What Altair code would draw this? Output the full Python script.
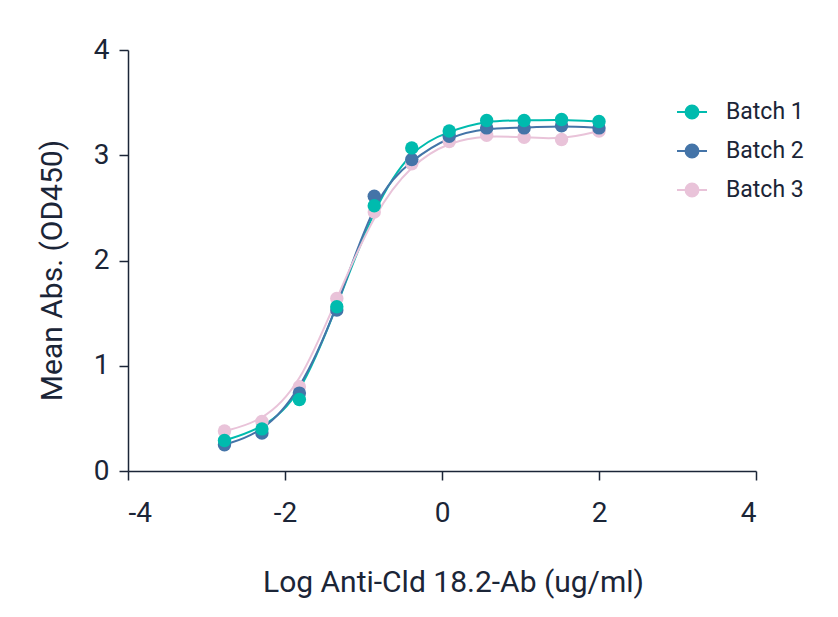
import altair as alt
import pandas as pd

# log10 concentration (3-fold dilutions from 100 ug/ml)
log_conc = [-2.771, -2.294, -1.817, -1.340, -0.863, -0.385, 0.092, 0.569, 1.046, 1.523, 2.000]
batch1 = [0.29, 0.40, 0.68, 1.56, 2.52, 3.07, 3.23, 3.33, 3.33, 3.34, 3.32]
batch2 = [0.25, 0.36, 0.74, 1.53, 2.61, 2.96, 3.18, 3.26, 3.26, 3.28, 3.26]
batch3 = [0.38, 0.47, 0.80, 1.64, 2.46, 2.92, 3.13, 3.19, 3.17, 3.15, 3.23]
series = ["Batch 1", "Batch 2", "Batch 3"]
colors = ["#00BBAE", "#4474A8", "#E9C3D9"]

rows = []
for name, vals in zip(series, [batch1, batch2, batch3]):
    for x, y in zip(log_conc, vals):
        rows.append({"x": x, "y": y, "batch": name})
df = pd.DataFrame(rows)

TEXT = "#1b2537"
FONT = "Roboto"

x_enc = alt.X("x:Q", scale=alt.Scale(domain=[-4, 4], nice=False),
              axis=alt.Axis(values=[-4, -2, 0, 2, 4], title="Log Anti-Cld 18.2-Ab (ug/ml)",
                            labelExpr="'' + datum.value",
                            titlePadding=40, labelPadding=19, titleX=325))
y_enc = alt.Y("y:Q", scale=alt.Scale(domain=[0, 4], nice=False),
              axis=alt.Axis(values=[0, 1, 2, 3, 4], title="Mean Abs. (OD450)",
                            titlePadding=26, labelPadding=10, titleY=220))

sym_path = "M-1,0L1,0M0.43,0A0.43,0.43,0,1,1,-0.43,0A0.43,0.43,0,1,1,0.43,0Z"
legend = alt.Legend(title=None, orient="none", legendX=548, legendY=46,
                    symbolType=sym_path, symbolSize=900, symbolStrokeWidth=2,
                    labelFontSize=23, labelColor=TEXT, labelFont=FONT,
                    labelOffset=18, rowPadding=11)

stroke_scale = alt.Scale(domain=series, range=colors)

line = alt.Chart(df).mark_line(interpolate="basis", strokeWidth=2).encode(
    x=x_enc, y=y_enc,
    stroke=alt.Stroke("batch:N", scale=stroke_scale, legend=legend),
    order=alt.Order("x:Q"),
)

points = alt.Chart(df).mark_point(filled=True, size=180, opacity=1, strokeWidth=0).encode(
    x=x_enc, y=y_enc,
    fill=alt.Fill("batch:N", scale=stroke_scale, legend=legend),
    order=alt.Order("batch:N", sort="descending"),
)

chart = alt.layer(line, points).properties(
    width=628, height=421,
    autosize="none",
    padding={"left": 120, "top": 42, "right": 74, "bottom": 138},
).configure_view(stroke=None).configure_axis(
    grid=False, domainColor=TEXT, domainWidth=1.5, tickColor=TEXT, tickWidth=1.5,
    tickSize=9, labelFontSize=28, labelColor=TEXT, labelFont=FONT,
    titleFontSize=30, titleColor=TEXT, titleFont=FONT, titleFontWeight="normal",
)

chart.save("out.html", embed_options={"renderer": "svg", "actions": False})
